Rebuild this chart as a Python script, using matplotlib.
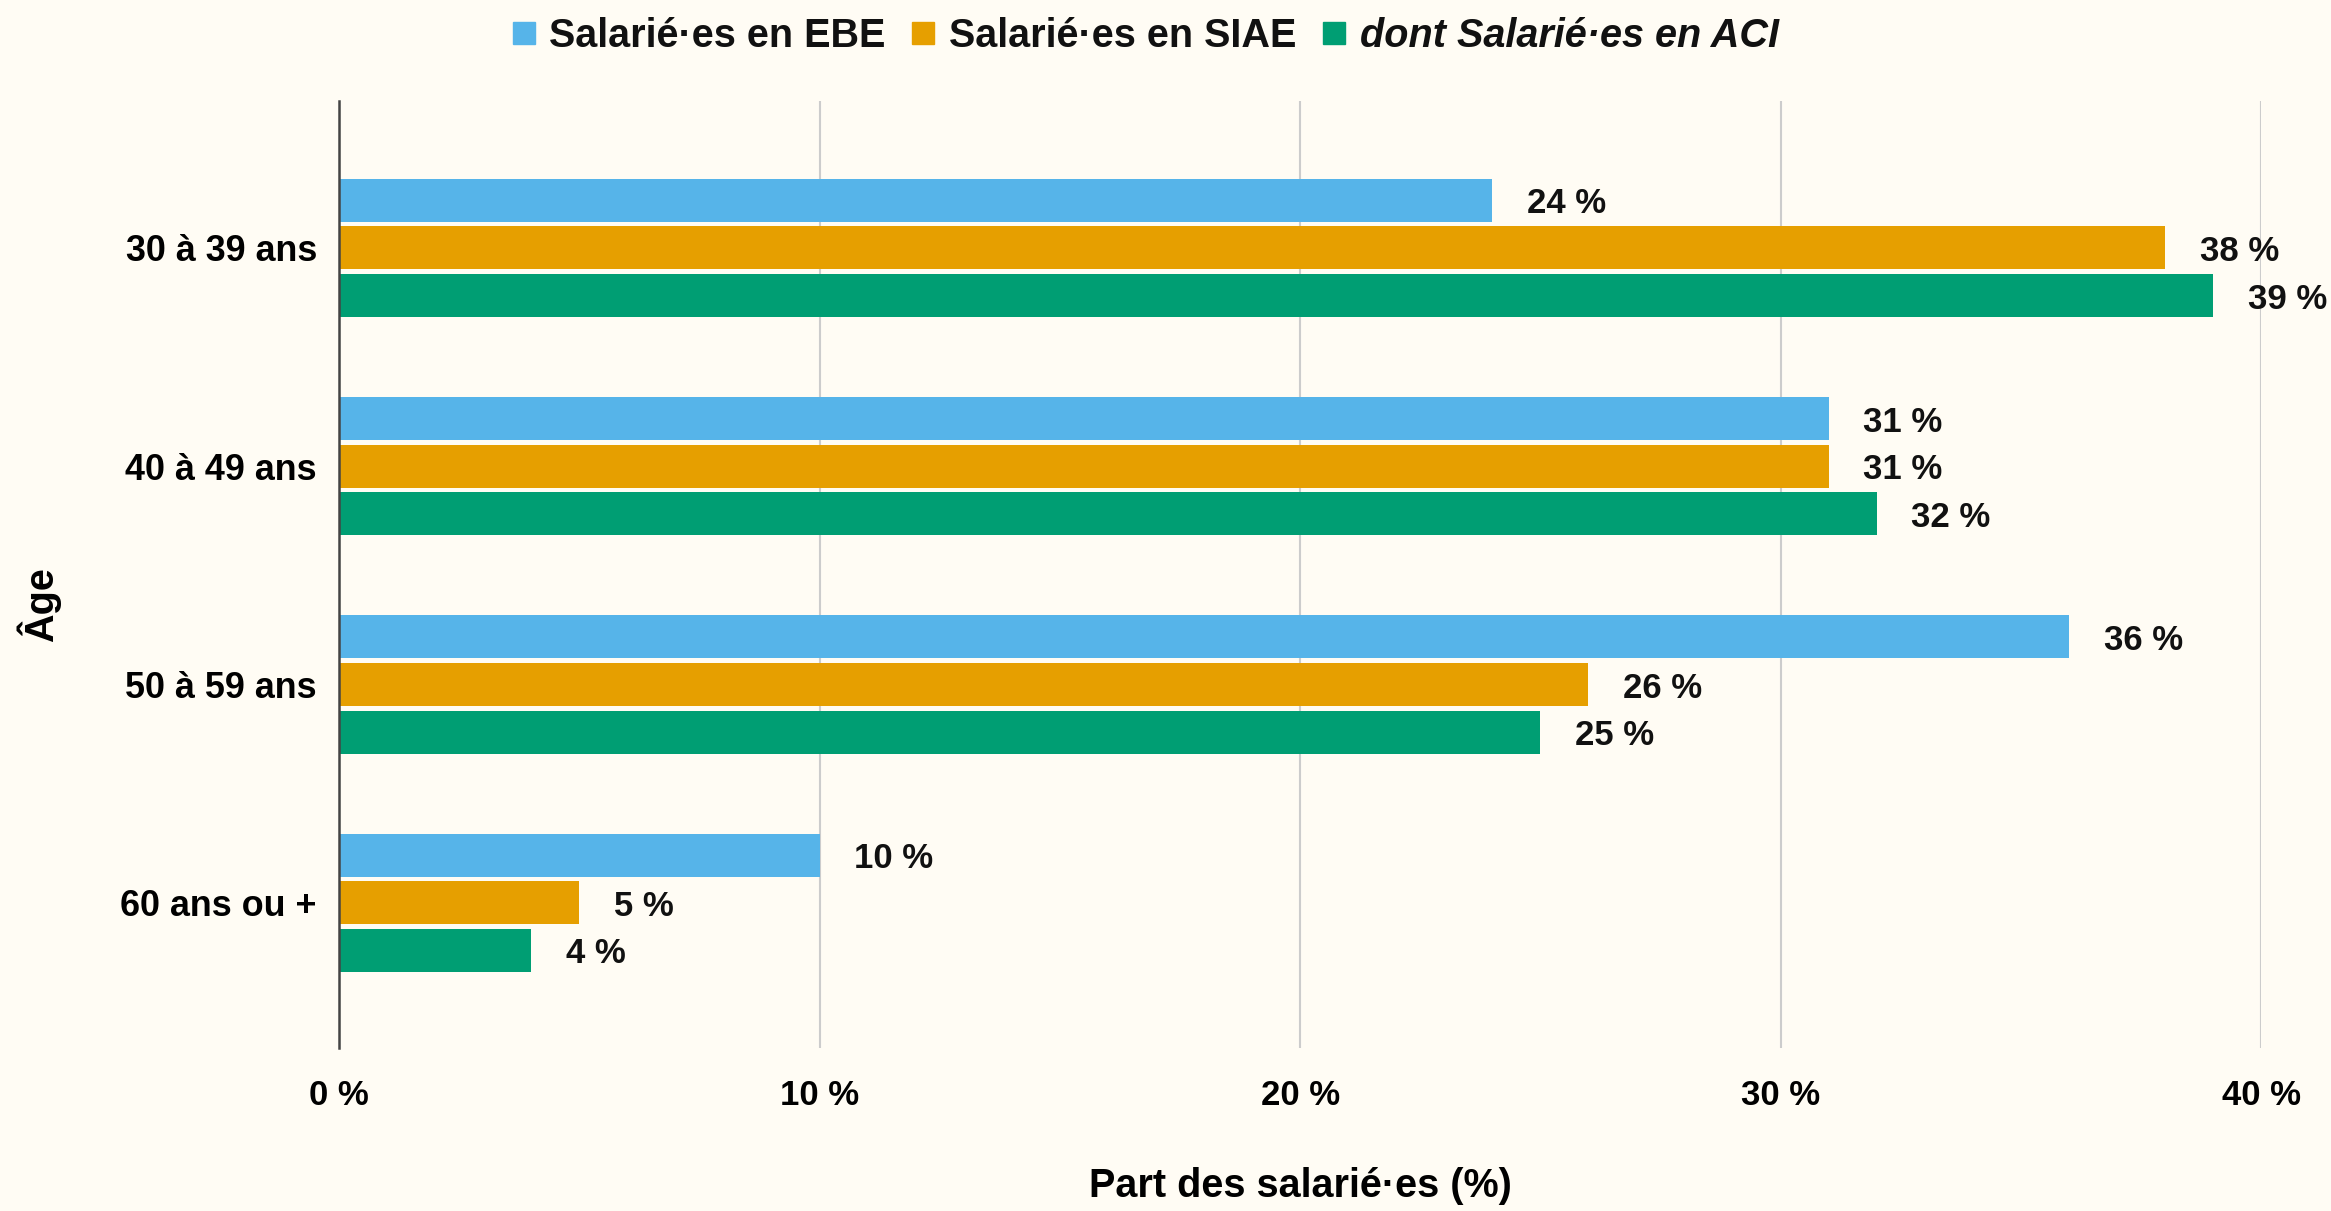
import matplotlib
matplotlib.use("Agg")
import matplotlib.pyplot as plt
import numpy as np
from matplotlib.lines import Line2D

plt.rcParams['font.family'] = ['Liberation Sans', 'DejaVu Sans']
plt.rcParams['font.weight'] = 'bold'

categories = ["30 à 39 ans", "40 à 49 ans", "50 à 59 ans", "60 ans ou +"]
series_names = ["Salarié·es en EBE", "Salarié·es en SIAE", "dont Salarié·es en ACI"]
ebe = [24, 31, 36, 10]
siae = [38, 31, 26, 5]
aci = [39, 32, 25, 4]
xticks = [0, 10, 20, 30, 40]
xtick_labels = ["0 %", "10 %", "20 %", "30 %", "40 %"]

colors = ["#56B4E9", "#E69F00", "#009E73"]
bg = "#FFFCF4"

fig = plt.figure(figsize=(23.31, 12.11), dpi=100, facecolor=bg)
ax = fig.add_axes([0.1455, 0.1346, 0.8245, 0.782])
ax.set_facecolor(bg)

y = np.arange(len(categories))
step = 0.218
h = 0.197
for i, (vals, c) in enumerate(zip([ebe, siae, aci], colors)):
    pos = y + (i - 1) * step
    bars = ax.barh(pos, vals, height=h, color=c, zorder=3)
    for b, v in zip(bars, vals):
        ax.annotate(f"{v} %", (v, b.get_y() + b.get_height() / 2),
                    xytext=(25, 0), textcoords="offset points",
                    ha="left", va="center_baseline", fontsize=25, fontweight="bold",
                    color="#111111")

ax.set_xlim(0, 40)
ax.set_ylim(3.665, -0.673)
ax.set_xticks(xticks)
ax.set_xticklabels(xtick_labels, fontsize=25, fontweight="bold")
ax.set_yticks(y)
ax.set_yticklabels(categories, fontsize=25.8, fontweight="bold")
ax.tick_params(axis="x", length=0, pad=22)
ax.tick_params(axis="y", length=0, pad=16)
ax.grid(axis="x", color="#cccccc", linewidth=1.5, zorder=0)
for s in ["top", "right", "bottom"]:
    ax.spines[s].set_visible(False)
ax.spines["left"].set_color("#444444")
ax.spines["left"].set_linewidth(1.8)
ax.spines["left"].set_zorder(4)

ax.set_xlabel("Part des salarié·es (%)", fontsize=28.5, fontweight="bold", labelpad=40)
ax.set_ylabel("Âge", fontsize=28.5, fontweight="bold")
ax.yaxis.set_label_coords(-0.1446, 0.468)

handles = [Line2D([0], [0], marker="s", linestyle="none", markersize=16,
                  markerfacecolor=c, markeredgecolor=c) for c in colors]
leg = fig.legend(handles, series_names, loc="center", bbox_to_anchor=(0.4905, 0.970),
                 ncol=3, frameon=False, fontsize=28.5, handletextpad=0.25,
                 columnspacing=0.55, handlelength=0.8)
for i, t in enumerate(leg.get_texts()):
    t.set_fontweight("bold")
    t.set_color("#111111")
    if i == 2:
        t.set_fontstyle("italic")

fig.savefig("out.png", dpi=100, facecolor=bg)
